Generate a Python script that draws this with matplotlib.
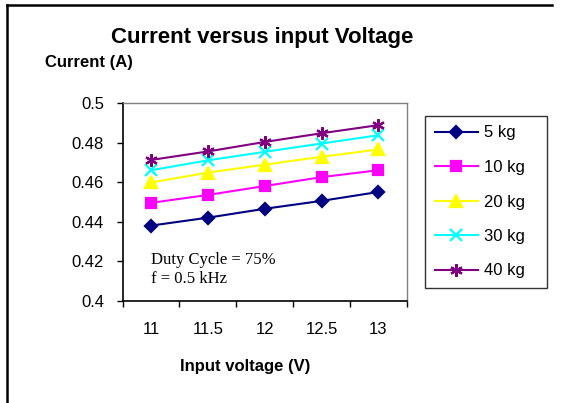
import matplotlib
matplotlib.use("Agg")
import matplotlib.pyplot as plt
from matplotlib.lines import Line2D

# data
voltages = ["11", "11.5", "12", "12.5", "13"]
loads = ["5 kg", "10 kg", "20 kg", "30 kg", "40 kg"]
current_5kg = [0.438, 0.442, 0.4465, 0.4505, 0.455]
current_10kg = [0.4495, 0.4535, 0.458, 0.4625, 0.466]
current_20kg = [0.4598, 0.4648, 0.4688, 0.4728, 0.4765]
current_30kg = [0.466, 0.471, 0.4753, 0.4795, 0.4837]
current_40kg = [0.4712, 0.4755, 0.4803, 0.4847, 0.4888]
y_ticks = [0.4, 0.42, 0.44, 0.46, 0.48, 0.5]
y_tick_labels = ["0.4", "0.42", "0.44", "0.46", "0.48", "0.5"]

series = [current_5kg, current_10kg, current_20kg, current_30kg, current_40kg]
colors = ["#000080", "#FF00FF", "#FFFF00", "#00FFFF", "#800080"]
markers = ["D", "s", "^", "x", (6, 2, 0)]
sizes = [6.5, 7, 8, 8, 9]

plt.rcParams["font.family"] = ["Liberation Sans", "DejaVu Sans"]

fig = plt.figure(figsize=(5.61, 4.03), dpi=100)
ax = fig.add_axes([0.2187, 0.2538, 0.5063, 0.4906])

x = list(range(len(voltages)))
for vals, lab, c, m, s in zip(series, loads, colors, markers, sizes):
    ax.plot(x, vals, color=c, marker=m, markersize=s, linewidth=1.5,
            markeredgewidth=1.6, markerfacecolor=c, markeredgecolor=c, label=lab)

ax.set_xlim(-0.5, 4.5)
ax.set_ylim(0.4, 0.5)
ax.set_xticks(x)
ax.set_xticklabels(voltages, fontsize=12)
ax.set_xticks([i - 0.5 for i in range(len(voltages) + 1)], minor=True)
ax.tick_params(axis="x", which="major", length=0, pad=15)
ax.tick_params(axis="x", which="minor", length=4.5, width=1, direction="out")
ax.set_yticks(y_ticks)
ax.set_yticklabels(y_tick_labels, fontsize=12)
ax.tick_params(axis="y", length=4.5, width=1, direction="out", pad=9)

for side in ["top", "right"]:
    ax.spines[side].set_color("#808080")
    ax.spines[side].set_linewidth(1)
for side in ["left", "bottom"]:
    ax.spines[side].set_color("black")
    ax.spines[side].set_linewidth(1.2)

ax.text(0.0, 0.4158, "Duty Cycle = 75%\nf = 0.5 kHz", fontsize=12,
        family=["Liberation Serif", "DejaVu Serif"], ha="left", va="center",
        linespacing=1.3)

fig.text(262 / 561, 1 - 37 / 403, "Current versus input Voltage", fontsize=16,
         fontweight="bold", ha="center", va="center")
fig.text(45 / 561, 1 - 62 / 403, "Current (A)", fontsize=12,
         fontweight="bold", ha="left", va="center")
fig.text(245 / 561, 1 - 366 / 403, "Input voltage (V)", fontsize=12,
         fontweight="bold", ha="center", va="center")

leg = fig.legend(loc="upper left",
                 bbox_to_anchor=(425 / 561, 1 - 116 / 403, 122 / 561, 0),
                 mode="expand", fontsize=12, frameon=True, fancybox=False,
                 handlelength=2.6, labelspacing=1.17, borderpad=0.57,
                 handletextpad=0.35, borderaxespad=0)
leg.get_frame().set_edgecolor("black")
leg.get_frame().set_linewidth(1)

# outer chart border (left and top only)
fig.add_artist(Line2D([7 / 561, 7 / 561], [0, 1 - 5 / 403], color="black",
                      linewidth=1.8, transform=fig.transFigure))
fig.add_artist(Line2D([7 / 561, 552 / 561], [1 - 5 / 403, 1 - 5 / 403],
                      color="black", linewidth=1.8, transform=fig.transFigure))

fig.savefig("out.png", dpi=100)
